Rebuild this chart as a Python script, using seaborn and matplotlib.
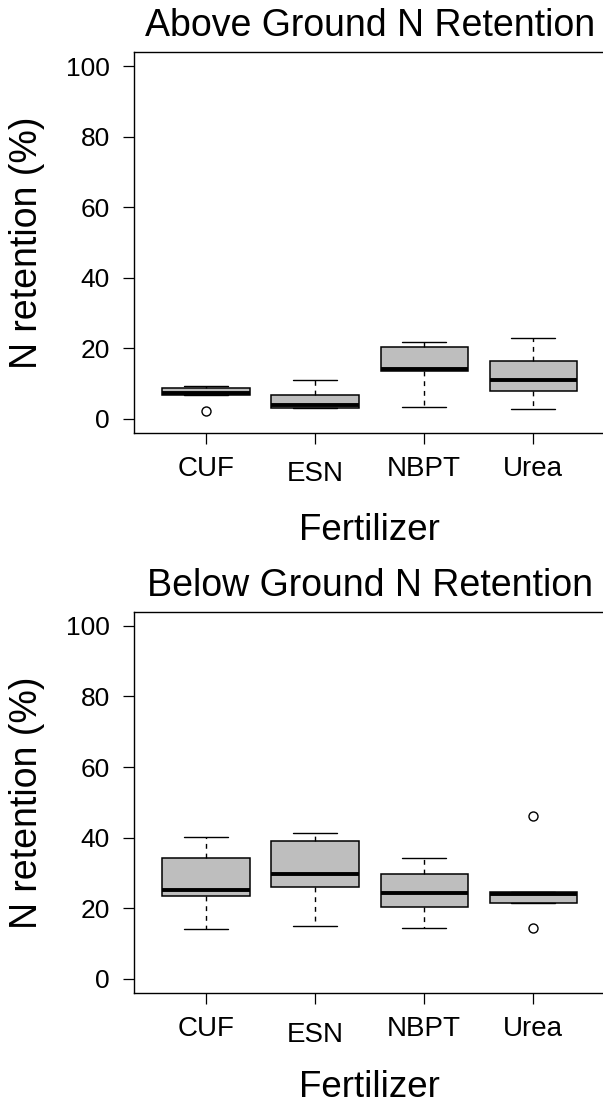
import matplotlib
matplotlib.use("Agg")
import matplotlib.pyplot as plt
import matplotlib.transforms as mtransforms
import pandas as pd
import seaborn as sns

# Fertilizer treatments
fertilizers = ["CUF", "ESN", "NBPT", "Urea"]

# Above-ground N retention (%) per plot
above_cuf = [2.2, 6.7, 6.8, 7.0, 7.2, 7.6, 8.6, 9.0, 9.3]
above_esn = [3.0, 3.0, 3.0, 3.4, 3.9, 5.2, 6.75, 8.5, 10.9]
above_nbpt = [3.2, 12.0, 13.5, 13.8, 14.0, 17.5, 20.2, 21.0, 21.8]
above_urea = [2.7, 5.5, 7.8, 9.5, 10.9, 13.0, 16.2, 19.5, 22.9]

# Below-ground N retention (%) per plot
below_cuf = [14.1, 19.0, 23.5, 24.2, 25.1, 29.5, 34.1, 37.0, 40.3]
below_esn = [14.9, 21.0, 26.0, 27.8, 29.6, 34.0, 39.0, 40.2, 41.3]
below_nbpt = [14.5, 17.5, 20.4, 22.3, 24.4, 27.0, 29.6, 31.5, 34.1]
below_urea = [14.5, 21.6, 21.6, 23.0, 24.1, 24.3, 24.6, 24.6, 46.0]

y_ticks = [0, 20, 40, 60, 80, 100]
titles = ["Above Ground N Retention", "Below Ground N Retention"]
x_label = "Fertilizer"
y_label = "N retention (%)"


def long_frame(groups):
    rows = []
    for name, vals in zip(fertilizers, groups):
        rows += [{"Fertilizer": name, "retention": v} for v in vals]
    return pd.DataFrame(rows)


above_df = long_frame([above_cuf, above_esn, above_nbpt, above_urea])
below_df = long_frame([below_cuf, below_esn, below_nbpt, below_urea])

sns.set_style("white")
plt.rcParams["font.family"] = ["Liberation Sans", "DejaVu Sans"]
plt.rcParams.update({
    "text.color": "black",
    "axes.labelcolor": "black",
    "xtick.color": "black",
    "ytick.color": "black",
    "axes.edgecolor": "black",
})

W, H = 603, 1106
fig = plt.figure(figsize=(W / 100, H / 100), dpi=100)

left_px, right_px = 134, 605.3
panels = [(52.0, 432.7, 107.3), (611.7, 993.0, 104.0)]

for (top_px, bot_px, xlab_off), df, title in zip(panels, [above_df, below_df], titles):
    ax = fig.add_axes([left_px / W, 1 - bot_px / H,
                       (right_px - left_px) / W, (bot_px - top_px) / H])
    sns.boxplot(
        data=df, x="Fertilizer", y="retention", order=fertilizers, ax=ax,
        color="#BEBEBE", saturation=1, width=0.8, linewidth=1.1,
        linecolor="black", whis=2.0,
        medianprops=dict(linewidth=2.8, color="black"),
        whiskerprops=dict(linestyle=(0, (3.5, 3.5)), linewidth=1.0),
        capprops=dict(linewidth=1.0),
        flierprops=dict(marker="o", markerfacecolor="none",
                        markeredgecolor="black", markersize=6.5,
                        markeredgewidth=1.0),
    )
    ax.set_xlim(-0.66, 3.66)
    ax.set_ylim(-4, 104)
    ax.set_yticks(y_ticks)
    ax.set_yticklabels([str(t) for t in y_ticks])

    for s in ax.spines.values():
        s.set_visible(True)
        s.set_color("black")
        s.set_linewidth(1.0)

    ax.tick_params(axis="y", direction="out", length=8, width=0.9,
                   color="black", labelcolor="black", labelsize=19,
                   pad=9.5, left=True)
    ax.tick_params(axis="x", direction="out", length=8, width=0.9,
                   color="black", labelcolor="black", labelsize=20,
                   pad=8.5, bottom=True)

    # stagger the second category label slightly lower
    lbl = ax.get_xticklabels()[1]
    lbl.set_transform(lbl.get_transform() +
                      mtransforms.ScaledTranslation(0, -0.056, fig.dpi_scale_trans))

    ax_h = bot_px - top_px
    ax_w = right_px - left_px
    ax.set_xlabel(x_label, fontsize=26.5, color="black")
    ax.xaxis.label.set_va("baseline")
    ax.xaxis.set_label_coords(0.5, -xlab_off / ax_h)

    ax.set_ylabel(y_label, fontsize=27, color="black")
    ax.yaxis.label.set_va("center")
    ax.yaxis.set_label_coords(-(left_px - 27) / ax_w, 0.5)

    ax.set_title(title, fontsize=27, pad=11.5, color="black")

fig.savefig("out.png", dpi=100)
